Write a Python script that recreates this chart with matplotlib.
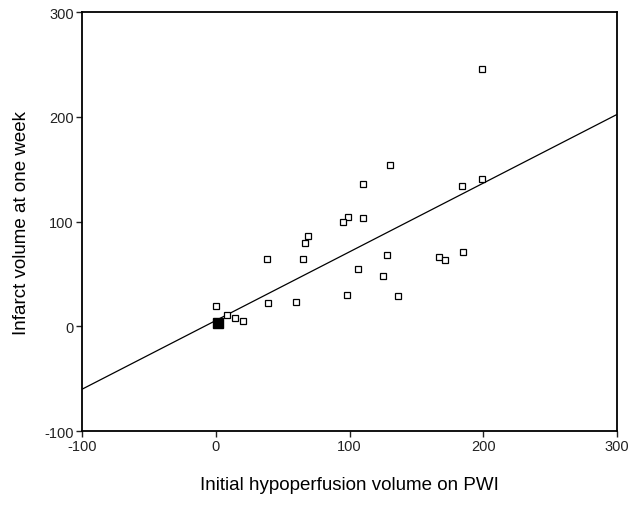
import numpy as np
import matplotlib
matplotlib.use("Agg")
import matplotlib.pyplot as plt

plt.rcParams["font.family"] = ["Liberation Sans", "DejaVu Sans"]
plt.rcParams["axes.unicode_minus"] = False

# initial hypoperfusion volume (PWI) vs infarct volume at one week
pwi = [130, 110, 99, 95, 110, 69, 67, 38, 65, 128, 106, 125, 98, 136,
       60, 39, 0, 8, 14, 20, 199, 184, 199, 167, 171, 185]
infarct = [154, 136, 104, 100, 103, 86, 80, 64, 64, 68, 55, 48, 30, 29,
           23, 22, 19, 11, 8, 5, 246, 134, 141, 66, 63, 71]

# overlapping cases near the origin (drawn as a filled square)
zero_x = [2]
zero_y = [3]

# regression line
slope = 0.656
intercept = 5.6

fig = plt.figure(figsize=(6.31, 5.06), dpi=100)
ax = fig.add_axes([0.130, 0.146, 0.848, 0.828])

xs = np.array([-100, 300])
ax.plot(xs, intercept + slope * xs, color="black", lw=0.9)

ax.plot(pwi, infarct, ls="none", marker="s", ms=4.2, mfc="white",
        mec="black", mew=0.9)
ax.plot(zero_x, zero_y, ls="none", marker="s", ms=6.5, color="black")

ax.set_xlim(-100, 300)
ax.set_ylim(-100, 300)
ax.set_xticks([-100, 0, 100, 200, 300])
ax.set_yticks([-100, 0, 100, 200, 300])

for s in ax.spines.values():
    s.set_linewidth(1.3)

ax.tick_params(direction="out", length=4, width=1, labelsize=10.5, pad=2,
               colors="#222222")

ax.set_xlabel("Initial hypoperfusion volume on PWI", fontsize=13.5, labelpad=16)
ax.set_ylabel("Infarct volume at one week", fontsize=13.5, labelpad=10)

fig.savefig("out.png", dpi=100)
